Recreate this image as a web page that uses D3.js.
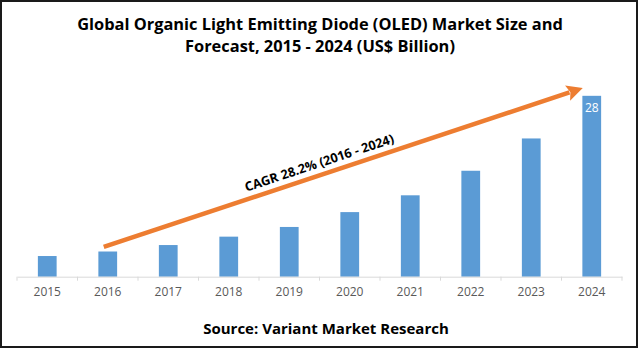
<!DOCTYPE html>
<html>
<head>
<meta charset="utf-8">
<script src="https://cdn.jsdelivr.net/npm/d3@7"></script>
<style>
  body { margin: 0; background: #fff; }
  svg { display: block; }
  text { font-family: "Open Sans", Lato, sans-serif; }
</style>
</head>
<body>
<div id="chart"></div>
<script>
// chart data
var years = ["2015", "2016", "2017", "2018", "2019", "2020", "2021", "2022", "2023", "2024"];
var marketSize = [3.2, 3.9, 4.9, 6.2, 7.7, 10.0, 12.6, 16.4, 21.4, 28];
var labelledYears = ["2024"];
var titleLines = ["Global Organic Light Emitting Diode (OLED) Market Size and",
                  "Forecast, 2015 - 2024 (US$ Billion)"];
var cagrText = "CAGR 28.2% (2016 - 2024)";
var sourceText = "Source: Variant Market Research";

var width = 639, height = 350;
var font = "'Open Sans', Lato, sans-serif";

var svg = d3.select("#chart").append("svg")
    .attr("width", width)
    .attr("height", height);

// frame
svg.append("rect")
    .attr("x", 1).attr("y", 1)
    .attr("width", 636).attr("height", 346)
    .attr("fill", "#fff")
    .attr("stroke", "#1a1a1a")
    .attr("stroke-width", 2);

// title
svg.append("g").selectAll("text")
    .data(titleLines)
    .enter().append("text")
    .attr("x", 320)
    .attr("y", function(d, i) { return 30 + i * 22; })
    .attr("text-anchor", "middle")
    .attr("font-size", 16.4)
    .attr("font-weight", "bold")
    .attr("fill", "#000")
    .text(function(d) { return d; });

// scales
var x = d3.scaleBand()
    .domain(years)
    .range([17, 622])
    .paddingInner(0.69)
    .paddingOuter(0.345);

var y = d3.scaleLinear()
    .domain([0, 30])
    .range([276.7, 82.9]);

// bars
svg.append("g").selectAll("rect")
    .data(years)
    .enter().append("rect")
    .attr("x", function(d) { return x(d); })
    .attr("y", function(d, i) { return y(marketSize[i]); })
    .attr("width", x.bandwidth())
    .attr("height", function(d, i) { return y(0) - y(marketSize[i]); })
    .attr("fill", "#5B9BD5");

// value label
svg.append("g").selectAll("text")
    .data(years.filter(function(d) { return labelledYears.indexOf(d) >= 0; }))
    .enter().append("text")
    .attr("x", function(d) { return x(d) + x.bandwidth() / 2; })
    .attr("y", function(d) { return y(marketSize[years.indexOf(d)]) + 16; })
    .attr("text-anchor", "middle")
    .attr("font-size", 12)
    .attr("fill", "#fff")
    .text(function(d) { return marketSize[years.indexOf(d)]; });

// x axis
var xAxis = d3.axisBottom(x).tickSize(0).tickPadding(11);
var gx = svg.append("g")
    .attr("transform", "translate(0," + y(0) + ")")
    .call(xAxis);
gx.select(".domain").attr("stroke", "#d9d9d9");
gx.selectAll("text")
    .attr("font-size", 12)
    .attr("fill", "#595959")
    .style("font-family", font);

// category separators
var step = x.step();
gx.selectAll(".sep")
    .data(d3.range(years.length + 1))
    .enter().append("line")
    .attr("class", "sep")
    .attr("x1", function(i) { return 17 + i * step; })
    .attr("x2", function(i) { return 17 + i * step; })
    .attr("y1", 0).attr("y2", 4)
    .attr("stroke", "#d9d9d9");

// CAGR arrow
var orange = "#ED7D31";
var x0 = x("2016") + x.bandwidth() / 2 - 4, y0 = y(4.6);
var x1 = x("2024") + x.bandwidth() / 2 - 9, y1 = y(29.2);
var ang = Math.atan2(y1 - y0, x1 - x0);
var headLen = 16, headW = 8;
var bx = x1 - headLen * Math.cos(ang), by = y1 - headLen * Math.sin(ang);

svg.append("line")
    .attr("x1", x0).attr("y1", y0)
    .attr("x2", bx + 2 * Math.cos(ang)).attr("y2", by + 2 * Math.sin(ang))
    .attr("stroke", orange)
    .attr("stroke-width", 4.5);

svg.append("path")
    .attr("d", "M" + x1 + "," + y1 +
        "L" + (bx + headW * Math.sin(ang)) + "," + (by - headW * Math.cos(ang)) +
        "L" + (bx + 3 * Math.cos(ang)) + "," + (by + 3 * Math.sin(ang)) +
        "L" + (bx - headW * Math.sin(ang)) + "," + (by + headW * Math.cos(ang)) + "Z")
    .attr("fill", orange);

// CAGR label along the arrow
var tx = 323, ty = y0 + (tx - x0) * Math.tan(ang);
var off = 12;
svg.append("text")
    .attr("transform", "translate(" + (tx + off * Math.sin(ang)) + "," + (ty - off * Math.cos(ang)) +
        ") rotate(" + (ang * 180 / Math.PI) + ")")
    .attr("text-anchor", "middle")
    .attr("dy", "0.35em")
    .attr("font-size", 12.8)
    .attr("font-weight", "bold")
    .attr("fill", "#000")
    .text(cagrText);

// source
svg.append("text")
    .attr("x", 326)
    .attr("y", 334)
    .attr("text-anchor", "middle")
    .attr("font-size", 15)
    .attr("font-weight", "bold")
    .attr("fill", "#000")
    .text(sourceText);
</script>
</body>
</html>
